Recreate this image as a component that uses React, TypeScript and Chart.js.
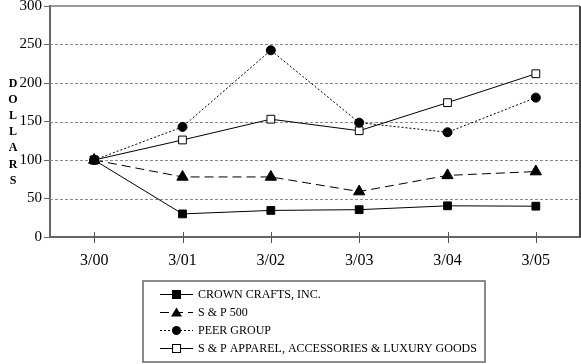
import React, { useEffect, useRef } from "react";
import { Chart, registerables } from "chart.js";

Chart.register(...registerables);

const categories = ["3/00", "3/01", "3/02", "3/03", "3/04", "3/05"];
const crownCrafts = [100, 30, 34.5, 35.5, 40.5, 40];
const sp500 = [100, 78, 78, 59, 80, 85];
const peerGroup = [100, 143, 242.5, 148.5, 136, 181];
const spApparel = [100, 126, 153, 138, 174.5, 212];
const yTicks = [0, 50, 100, 150, 200, 250, 300];
const seriesLabels = [
  "CROWN CRAFTS, INC.",
  "S & P 500",
  "PEER GROUP",
  "S & P APPAREL, ACCESSORIES & LUXURY GOODS",
];
const yTitle = "DOLLARS";

const FONT = "'Liberation Serif', 'DejaVu Serif', serif";

type Style = { dash: number[]; pointStyle: string; radius: number; fill: string };
const styles: Style[] = [
  { dash: [], pointStyle: "rect", radius: 5.5, fill: "#000" },
  { dash: [9, 5], pointStyle: "triangle", radius: 6.5, fill: "#000" },
  { dash: [2, 2], pointStyle: "circle", radius: 4.5, fill: "#000" },
  { dash: [], pointStyle: "rect", radius: 5.5, fill: "#fff" },
];

const gridPlugin = {
  id: "dashGrid",
  beforeDatasetsDraw(chart: any) {
    const ctx = chart.ctx as CanvasRenderingContext2D;
    const a = chart.chartArea;
    const ys = chart.scales.y;
    ctx.save();
    ctx.strokeStyle = "#8a8a8a";
    ctx.lineWidth = 1;
    ctx.setLineDash([3, 2]);
    for (const v of yTicks) {
      if (v === 0 || v === 300) continue;
      const y = Math.round(ys.getPixelForValue(v)) + 0.5;
      ctx.beginPath();
      ctx.moveTo(a.left, y);
      ctx.lineTo(a.right, y);
      ctx.stroke();
    }
    ctx.restore();
  },
};

const decorPlugin = {
  id: "decor",
  afterDraw(chart: any) {
    const ctx = chart.ctx as CanvasRenderingContext2D;
    const a = chart.chartArea;
    const xs = chart.scales.x;
    ctx.save();
    // frame top + right
    ctx.strokeStyle = "#777";
    ctx.lineWidth = 1.5;
    ctx.beginPath();
    ctx.moveTo(a.left, a.top);
    ctx.lineTo(a.right, a.top);
    ctx.stroke();
    ctx.strokeStyle = "#444";
    ctx.lineWidth = 2;
    ctx.beginPath();
    ctx.moveTo(a.right, a.top);
    ctx.lineTo(a.right, a.bottom);
    ctx.stroke();
    // x tick marks crossing the axis
    ctx.strokeStyle = "#555";
    ctx.lineWidth = 1;
    for (let i = 0; i < categories.length; i++) {
      const x = Math.round(xs.getPixelForTick(i)) + 0.5;
      ctx.beginPath();
      ctx.moveTo(x, a.bottom - 5);
      ctx.lineTo(x, a.bottom + 6);
      ctx.stroke();
    }
    // vertical title
    ctx.fillStyle = "#000";
    ctx.font = "bold 12px " + FONT;
    ctx.textAlign = "center";
    ctx.textBaseline = "middle";
    for (let i = 0; i < yTitle.length; i++) {
      ctx.fillText(yTitle[i], 13, 84 + i * 16.1);
    }
    // legend box
    const lx = 143, ly = 281, lw = 342, lh = 81;
    ctx.strokeStyle = "#666";
    ctx.lineWidth = 1.5;
    ctx.strokeRect(lx, ly, lw, lh);
    const ds = chart.data.datasets;
    for (let i = 0; i < ds.length; i++) {
      const y = 294.5 + i * 18;
      const st = styles[i];
      ctx.strokeStyle = "#000";
      ctx.lineWidth = 1;
      ctx.setLineDash(st.dash);
      ctx.beginPath();
      ctx.moveTo(160, y);
      ctx.lineTo(193, y);
      ctx.stroke();
      ctx.setLineDash([]);
      ctx.fillStyle = st.fill;
      const cx = 176.5;
      if (st.pointStyle === "rect") {
        ctx.fillRect(cx - 4, y - 4, 8, 8);
        ctx.strokeRect(cx - 4, y - 4, 8, 8);
      } else if (st.pointStyle === "triangle") {
        ctx.beginPath();
        ctx.moveTo(cx, y - 5);
        ctx.lineTo(cx + 5.5, y + 4);
        ctx.lineTo(cx - 5.5, y + 4);
        ctx.closePath();
        ctx.fill();
      } else {
        ctx.beginPath();
        ctx.arc(cx, y, 4.5, 0, Math.PI * 2);
        ctx.fill();
      }
      ctx.fillStyle = "#000";
      ctx.font = "12px " + FONT;
      ctx.textAlign = "left";
      ctx.textBaseline = "middle";
      ctx.fillText(ds[i].label, 198, y + 0.5);
    }
    ctx.restore();
  },
};

export default function App() {
  const ref = useRef<HTMLCanvasElement>(null);
  useEffect(() => {
    document.body.style.margin = "0";
    const series = [crownCrafts, sp500, peerGroup, spApparel];
    const chart = new Chart(ref.current!, {
      type: "line",
      data: {
        labels: categories,
        datasets: series.map((d, i) => ({
          label: seriesLabels[i],
          data: d,
          borderColor: "#000",
          borderWidth: 1,
          borderDash: styles[i].dash,
          pointStyle: styles[i].pointStyle as any,
          pointRadius: styles[i].radius,
          pointBackgroundColor: styles[i].fill,
          pointBorderColor: "#000",
          pointBorderWidth: 1,
          tension: 0,
          fill: false,
        })),
      },
      options: {
        responsive: false,
        animation: false,
        plugins: { legend: { display: false }, tooltip: { enabled: false } },
        layout: { autoPadding: false, padding: { left: 0, right: 1, top: 6, bottom: 98 } },
        scales: {
          x: {
            offset: true,
            grid: { display: false },
            border: { color: "#666", width: 2 },
            ticks: { color: "#000", font: { family: FONT, size: 16 }, padding: 6 },
            afterFit(s: any) {
              s.height = 29;
              s.paddingLeft = 0;
              s.paddingRight = 0;
            },
          },
          y: {
            min: 0,
            max: 300,
            afterBuildTicks(s: any) {
              s.ticks = yTicks.map((v) => ({ value: v }));
            },
            grid: {
              drawOnChartArea: false,
              drawTicks: true,
              tickLength: 6,
              color: "#666",
            },
            border: { color: "#666", width: 2 },
            ticks: { color: "#000", font: { family: FONT, size: 15 }, padding: 2 },
            afterFit(s: any) {
              s.width = 50;
              s.paddingTop = 0;
              s.paddingBottom = 0;
            },
          },
        },
      },
      plugins: [gridPlugin, decorPlugin],
    });
    return () => chart.destroy();
  }, []);
  return <canvas ref={ref} width={581} height={364} style={{ display: "block" }} />;
}
